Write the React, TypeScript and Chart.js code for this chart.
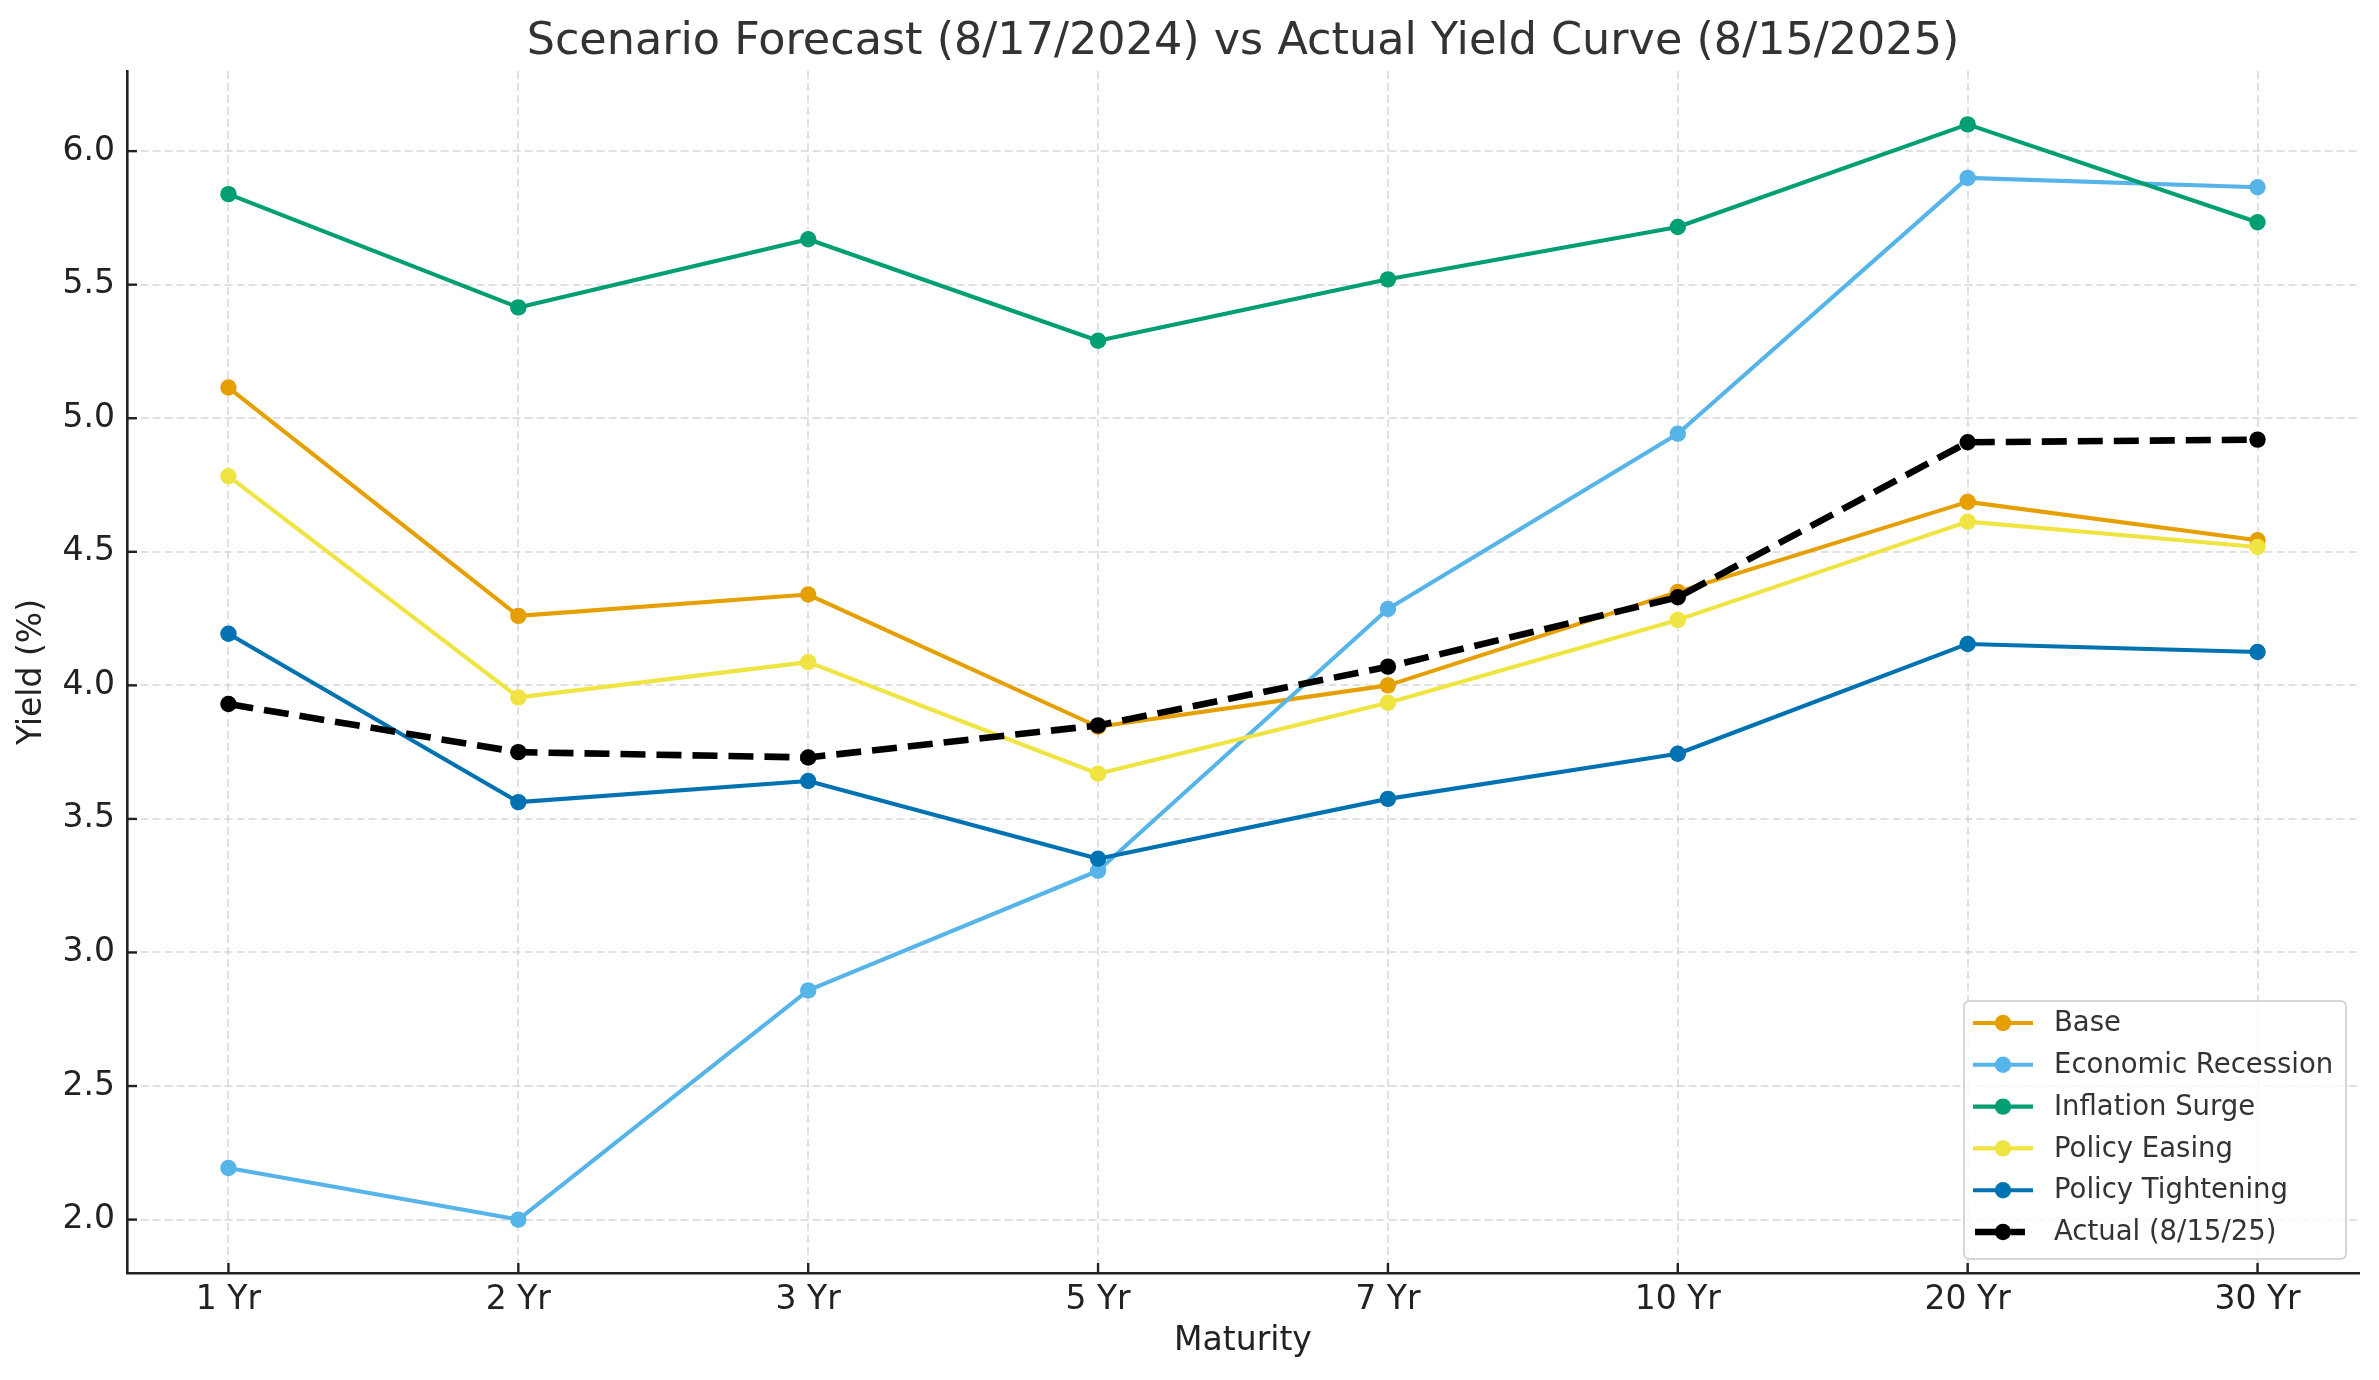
import React, { useEffect, useRef } from "react";
import { Chart, registerables } from "chart.js";

Chart.register(...registerables);

const MATURITIES = ["1 Yr", "2 Yr", "3 Yr", "5 Yr", "7 Yr", "10 Yr", "20 Yr", "30 Yr"];
const BASE = [5.115, 4.26, 4.34, 3.845, 4.0, 4.35, 4.687, 4.543];
const RECESSION = [2.193, 2.0, 2.858, 3.306, 4.286, 4.942, 5.9, 5.865];
const INFLATION = [5.839, 5.415, 5.67, 5.29, 5.52, 5.716, 6.1, 5.734];
const EASING = [4.783, 3.955, 4.087, 3.669, 3.935, 4.245, 4.613, 4.518];
const TIGHTENING = [4.193, 3.563, 3.642, 3.351, 3.575, 3.744, 4.155, 4.125];
const ACTUAL = [3.93, 3.75, 3.73, 3.85, 4.07, 4.33, 4.91, 4.92];
const Y_TICKS = [2.0, 2.5, 3.0, 3.5, 4.0, 4.5, 5.0, 5.5, 6.0];
const TITLE = "Scenario Forecast (8/17/2024) vs Actual Yield Curve (8/15/2025)";

const FONT = "'DejaVu Sans', 'Liberation Sans', sans-serif";

const SERIES = [
  { label: "Base", data: BASE, color: "#E69F00", dashed: false },
  { label: "Economic Recession", data: RECESSION, color: "#56B4E9", dashed: false },
  { label: "Inflation Surge", data: INFLATION, color: "#009E73", dashed: false },
  { label: "Policy Easing", data: EASING, color: "#F0E442", dashed: false },
  { label: "Policy Tightening", data: TIGHTENING, color: "#0072B2", dashed: false },
  { label: "Actual (8/15/25)", data: ACTUAL, color: "#000000", dashed: true },
];

const DASH = [25, 11];

const decorPlugin = {
  id: "decor",
  afterDraw(chart: any) {
    const ctx = chart.ctx as CanvasRenderingContext2D;
    const area = chart.chartArea;
    const xs = chart.scales.x;
    const ys = chart.scales.y;

    // Title
    ctx.save();
    ctx.font = `44.5px ${FONT}`;
    ctx.fillStyle = "#333333";
    ctx.textAlign = "center";
    ctx.textBaseline = "alphabetic";
    ctx.fillText(TITLE, (area.left + area.right) / 2, 54);
    ctx.restore();

    // Inward tick marks
    ctx.save();
    ctx.strokeStyle = "#222222";
    ctx.lineWidth = 2.4;
    MATURITIES.forEach((_, i) => {
      const px = xs.getPixelForValue(i);
      ctx.beginPath();
      ctx.moveTo(px, area.bottom);
      ctx.lineTo(px, area.bottom - 10);
      ctx.stroke();
    });
    Y_TICKS.forEach((v) => {
      const py = ys.getPixelForValue(v);
      ctx.beginPath();
      ctx.moveTo(area.left, py);
      ctx.lineTo(area.left + 10, py);
      ctx.stroke();
    });
    ctx.restore();

    // Legend
    const bx = 1964, by = 1001, bw = 382, bh = 258, r = 6;
    ctx.save();
    ctx.beginPath();
    ctx.moveTo(bx + r, by);
    ctx.lineTo(bx + bw - r, by);
    ctx.quadraticCurveTo(bx + bw, by, bx + bw, by + r);
    ctx.lineTo(bx + bw, by + bh - r);
    ctx.quadraticCurveTo(bx + bw, by + bh, bx + bw - r, by + bh);
    ctx.lineTo(bx + r, by + bh);
    ctx.quadraticCurveTo(bx, by + bh, bx, by + bh - r);
    ctx.lineTo(bx, by + r);
    ctx.quadraticCurveTo(bx, by, bx + r, by);
    ctx.closePath();
    ctx.fillStyle = "rgba(255,255,255,0.8)";
    ctx.fill();
    ctx.strokeStyle = "rgba(204,204,204,0.8)";
    ctx.lineWidth = 2;
    ctx.stroke();

    const datasets = chart.data.datasets;
    datasets.forEach((ds: any, i: number) => {
      const y = 1023 + i * 41.8;
      ctx.save();
      ctx.strokeStyle = ds.borderColor;
      ctx.lineWidth = ds.borderWidth;
      if (ds.borderDash && ds.borderDash.length) {
        ctx.setLineDash(ds.borderDash);
        ctx.beginPath();
        ctx.moveTo(1975, y);
        ctx.lineTo(2025, y);
        ctx.stroke();
      } else {
        ctx.beginPath();
        ctx.moveTo(1973, y);
        ctx.lineTo(2033, y);
        ctx.stroke();
      }
      ctx.setLineDash([]);
      ctx.beginPath();
      ctx.arc(2003, y, 8.2, 0, Math.PI * 2);
      ctx.fillStyle = ds.pointBackgroundColor;
      ctx.fill();
      ctx.restore();

      ctx.save();
      ctx.font = `27.5px ${FONT}`;
      ctx.fillStyle = "#333333";
      ctx.textAlign = "left";
      ctx.textBaseline = "middle";
      ctx.fillText(ds.label, 2054, y + 1);
      ctx.restore();
    });
    ctx.restore();
  },
};

export default function App() {
  const canvasRef = useRef<HTMLCanvasElement | null>(null);

  useEffect(() => {
    document.body.style.margin = "0";
    const canvas = canvasRef.current;
    if (!canvas) return;

    const datasets = SERIES.map((s, idx) => ({
      label: s.label,
      data: s.data.map((v, i) => ({ x: i, y: v })),
      borderColor: s.color,
      backgroundColor: s.color,
      pointBackgroundColor: s.color,
      pointBorderColor: s.color,
      pointBorderWidth: 0,
      pointRadius: 8.2,
      pointHoverRadius: 8.2,
      borderWidth: s.dashed ? 6.6 : 4.1,
      borderDash: s.dashed ? DASH : [],
      borderCapStyle: s.dashed ? "butt" : "round",
      borderJoinStyle: "round",
      tension: 0,
      fill: false,
      order: SERIES.length - idx,
    }));

    const chart = new Chart(canvas, {
      type: "line",
      data: { datasets: datasets as any },
      plugins: [decorPlugin],
      options: {
        animation: false,
        responsive: false,
        devicePixelRatio: 1,
        events: [],
        layout: { padding: { top: 71, right: 20, left: 0, bottom: 0 } },
        plugins: {
          legend: { display: false },
          title: { display: false },
          tooltip: { enabled: false },
        },
        scales: {
          x: {
            type: "linear",
            min: -0.35,
            max: 7.35,
            afterBuildTicks: (scale: any) => {
              scale.ticks = MATURITIES.map((_, i) => ({ value: i }));
            },
            afterFit: (scale: any) => {
              scale.height = 107;
            },
            ticks: {
              autoSkip: false,
              maxRotation: 0,
              minRotation: 0,
              padding: 8,
              color: "#222222",
              font: { family: FONT, size: 33 },
              callback: (v: any) => MATURITIES[Math.round(Number(v))] ?? "",
            },
            grid: {
              color: "rgba(200,200,200,0.55)",
              lineWidth: 2,
              drawTicks: false,
            },
            border: { display: true, color: "#222222", width: 2.6, dash: [8, 4] },
            title: {
              display: true,
              text: "Maturity",
              color: "#222222",
              font: { family: FONT, size: 33 },
              padding: { top: 0, bottom: 18.6 },
            },
          },
          y: {
            type: "linear",
            min: 1.8,
            max: 6.3,
            afterBuildTicks: (scale: any) => {
              scale.ticks = Y_TICKS.map((v) => ({ value: v }));
            },
            afterFit: (scale: any) => {
              scale.width = 127;
            },
            ticks: {
              padding: 12,
              color: "#222222",
              font: { family: FONT, size: 33 },
              callback: (v: any) => Number(v).toFixed(1),
            },
            grid: {
              color: "rgba(200,200,200,0.55)",
              lineWidth: 2,
              drawTicks: false,
            },
            border: { display: true, color: "#222222", width: 2.6, dash: [8, 4] },
            title: {
              display: true,
              text: "Yield (%)",
              color: "#222222",
              font: { family: FONT, size: 33 },
              padding: { top: 13, bottom: 0 },
            },
          },
        },
      } as any,
    });

    return () => {
      chart.destroy();
    };
  }, []);

  return (
    <div style={{ width: 2379, height: 1380, background: "#ffffff" }}>
      <canvas ref={canvasRef} width={2379} height={1380} style={{ display: "block" }} />
    </div>
  );
}
